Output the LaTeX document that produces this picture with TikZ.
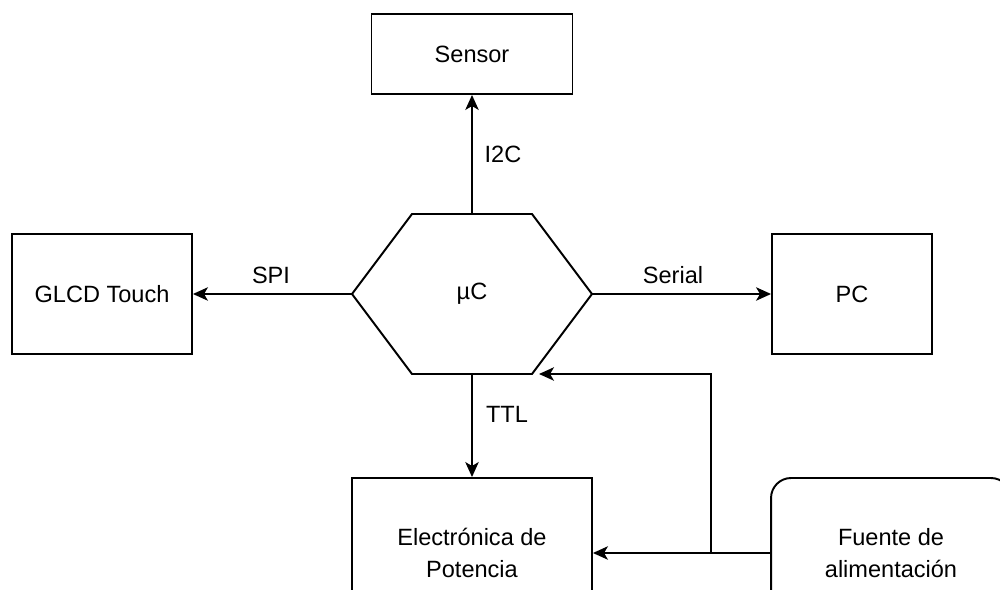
\documentclass[tikz,border=0pt]{standalone}
\usepackage{fontspec}
\setmainfont{Liberation Sans}
\usetikzlibrary{arrows.meta}
\begin{document}
\begin{tikzpicture}[x=0.02cm,y=-0.02cm,
  box/.style={draw=black,line width=1.1pt,rectangle,inner sep=0pt,align=center,font=\fontsize{13.4}{16}\selectfont},
  lbl/.style={inner sep=0pt,font=\fontsize{13.4}{16}\selectfont},
  arr/.style={draw=black,line width=1.1pt,-{Stealth[length=8.5pt,width=7.6pt,inset=2.2pt]}},
  ln/.style={draw=black,line width=1.1pt}]
\useasboundingbox (0,0) rectangle (1000,590);
\fill[white] (0,0) rectangle (1000,590);
% nodes
\node[box,minimum width=4.02cm,minimum height=1.6cm] (sensor) at (472,54) {Sensor};
\node[box,minimum width=3.6cm,minimum height=2.4cm] (glcd) at (102,294) {GLCD Touch};
\node[box,minimum width=3.2cm,minimum height=2.4cm] (pc) at (852,294) {PC};
\node[box,minimum width=4.8cm,minimum height=3cm] (elec) at (472,553) {Electrónica de\\[1.8pt]Potencia};
\node[box,rounded corners=0.4cm,minimum width=4.8cm,minimum height=3cm] (fuente) at (891,553) {Fuente de\\[1.8pt]alimentación};
% hexagon (microcontroller)
\coordinate (ucL) at (352,294);
\coordinate (ucR) at (592,294);
\coordinate (ucT) at (472,214);
\coordinate (ucB) at (472,374);
\draw[ln,line join=miter] (ucL) -- (412,214) -- (532,214) -- (ucR) -- (532,374) -- (412,374) -- cycle;
\node[lbl] (uc) at (472,294) {µC};
% connectors
\draw[arr] (ucT) -- (sensor.south);
\node[lbl] (li2c) at (503,154) {I2C};
\draw[arr] (ucL) -- (glcd.east);
\node[lbl] (lspi) at (271,275) {SPI};
\draw[arr] (ucR) -- (pc.west);
\node[lbl] (lser) at (673,275) {Serial};
\draw[arr] (ucB) -- (elec.north);
\node[lbl] (lttl) at (507,414) {TTL};
\draw[arr] (fuente.west) -- (elec.east);
\coordinate (j) at (711,553);
\coordinate (pin) at (539,374);
\draw[arr] (j) |- (pin);
\end{tikzpicture}
\end{document}
